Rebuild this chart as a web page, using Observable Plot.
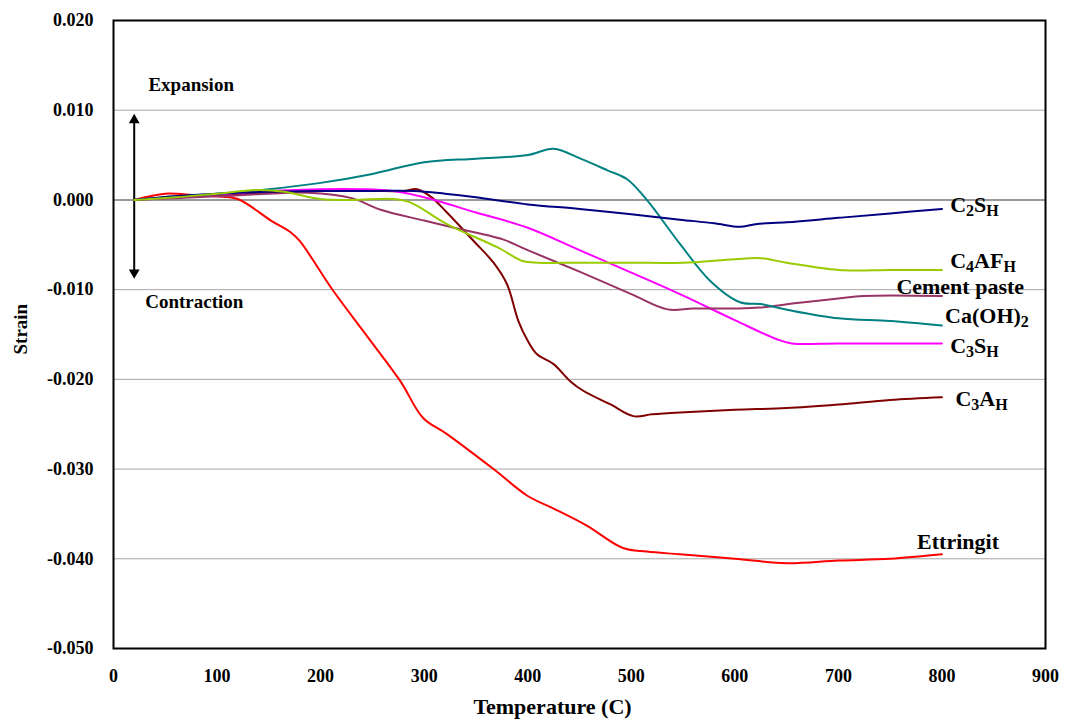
<!DOCTYPE html>
<html>
<head>
<meta charset="utf-8">
<script src="https://cdn.jsdelivr.net/npm/d3@7"></script>
<script src="https://cdn.jsdelivr.net/npm/@observablehq/plot@0.6"></script>
<style>
  html, body { margin: 0; padding: 0; background: white; }
</style>
</head>
<body>
<div id="chart"></div>
<script>
// ---- Axis ticks ----
const xTicks = [0, 100, 200, 300, 400, 500, 600, 700, 800, 900];
const yTicks = [-0.05, -0.04, -0.03, -0.02, -0.01, 0, 0.01, 0.02];
const gridLines = [-0.04, -0.03, -0.02, -0.01, 0.01];
const zeroLine = [0];

// ---- Series (temperature in C, strain) ----
const ettT = [20, 50, 80, 100, 120, 152, 171, 180, 212, 245, 277, 299, 322, 367, 400, 425, 457, 492, 515, 547, 600, 650, 700, 750, 800];
const ettV = [0, 0.0007, 0.0005, 0.0004, 0.0001, -0.0023, -0.0036, -0.0046, -0.0101, -0.0152, -0.0202, -0.0243, -0.0261, -0.0300, -0.0330, -0.0344, -0.0363, -0.0388, -0.0392, -0.0395, -0.0400, -0.0405, -0.0402, -0.0400, -0.0395];

const c3aT = [20, 60, 100, 150, 200, 250, 280, 293, 306, 322, 348, 367, 380, 391, 400, 409, 425, 441, 454, 480, 502, 520, 547, 600, 650, 700, 750, 800];
const c3aV = [0, 0.0003, 0.0005, 0.0008, 0.0010, 0.0010, 0.0010, 0.0012, 0.0004, -0.0014, -0.0046, -0.0070, -0.0094, -0.0135, -0.0157, -0.0172, -0.0183, -0.0202, -0.0213, -0.0228, -0.0241, -0.0239, -0.0237, -0.0234, -0.0232, -0.0228, -0.0223, -0.0220];

const c3sT = [20, 60, 100, 150, 200, 240, 270, 300, 350, 400, 450, 500, 547, 600, 640, 655, 700, 800];
const c3sV = [0, 0.0003, 0.0006, 0.0010, 0.0012, 0.0012, 0.0010, 0.0003, -0.0014, -0.0031, -0.0056, -0.0081, -0.0105, -0.0134, -0.0155, -0.0160, -0.0160, -0.0160];

const cemT = [20, 60, 100, 150, 187, 230, 258, 300, 325, 376, 400, 450, 500, 535, 560, 600, 624, 660, 700, 724, 800];
const cemV = [0, 0.0002, 0.0004, 0.0007, 0.0008, 0.0002, -0.0011, -0.0023, -0.0030, -0.0044, -0.0056, -0.0080, -0.0105, -0.0122, -0.0121, -0.0121, -0.0120, -0.0115, -0.0110, -0.0107, -0.0107];

const cohT = [20, 60, 100, 150, 200, 250, 300, 350, 400, 425, 451, 477, 496, 515, 547, 576, 605, 625, 653, 700, 750, 800];
const cohV = [0, 0.0004, 0.0007, 0.0012, 0.0019, 0.0029, 0.0042, 0.0046, 0.0050, 0.0057, 0.0046, 0.0033, 0.0023, 0, -0.0049, -0.0090, -0.0114, -0.0116, -0.0123, -0.0132, -0.0135, -0.0140];

const c2sT = [20, 60, 100, 150, 200, 250, 290, 320, 350, 400, 450, 500, 547, 580, 605, 620, 650, 700, 750, 800];
const c2sV = [0, 0.0004, 0.0007, 0.0009, 0.0010, 0.0010, 0.0010, 0.0007, 0.0003, -0.0005, -0.0010, -0.0016, -0.0022, -0.0026, -0.0030, -0.0027, -0.0025, -0.0020, -0.0015, -0.0010];

const c4aT = [20, 60, 100, 140, 165, 200, 230, 270, 287, 322, 371, 395, 410, 450, 500, 550, 600, 625, 650, 700, 750, 800];
const c4aV = [0, 0.0003, 0.0007, 0.0011, 0.0009, 0.0001, 0, 0.0001, -0.0003, -0.0027, -0.0053, -0.0068, -0.0070, -0.0070, -0.0070, -0.0070, -0.0066, -0.0065, -0.0070, -0.0078, -0.0078, -0.0078];

const seriesNames = ["Ettringit", "C3AH", "C3SH", "Cement paste", "Ca(OH)2", "C2SH", "C4AFH"];
const seriesColors = ["#FF0000", "#800000", "#FF00FF", "#993366", "#008080", "#000080", "#99CC00"];
const seriesT = [ettT, c3aT, c3sT, cemT, cohT, c2sT, c4aT];
const seriesV = [ettV, c3aV, c3sV, cemV, cohV, c2sV, c4aV];

// ---- End labels (underscore marks a subscript character) ----
const labelText = ["C_2S_H", "C_4AF_H", "Cement paste", "Ca(OH)_2", "C_3S_H", "C_3A_H", "Ettringit"];
const labelT = [808, 808, 756, 803, 808, 813, 776];
const labelV = [-0.0006, -0.0068, -0.0097, -0.0129, -0.0163, -0.0222, -0.0381];

// ---- Expansion / contraction annotation ----
const arrowT = [20];
const arrowTop = [0.0089];
const arrowBottom = [-0.0081];
const noteText = ["Expansion", "Contraction"];
const noteT = [75, 78];
const noteV = [0.0128, -0.0114];

const lineMarks = seriesNames.map((name, i) =>
  Plot.line(seriesT[i].map((t, j) => ({t, v: seriesV[i][j]})), {
    x: "t", y: "v", stroke: seriesColors[i], strokeWidth: 2, curve: "catmull-rom"
  })
);

const chart = Plot.plot({
  width: 1065,
  height: 724,
  marginLeft: 113,
  marginRight: 20,
  marginTop: 20,
  marginBottom: 76,
  style: {fontFamily: "'Liberation Serif', 'Times New Roman', serif", fontSize: "18px", fontWeight: "bold", background: "white", color: "black", overflow: "visible"},
  x: {domain: [0, 900]},
  y: {domain: [-0.05, 0.02]},
  marks: [
    Plot.ruleY(gridLines, {stroke: "#a6a6a6", strokeWidth: 1}),
    Plot.ruleY(zeroLine, {stroke: "#7a7a7a", strokeWidth: 1.5}),
    Plot.axisX({ticks: xTicks, tickSize: 0, tickPadding: 21, tickFormat: d => String(d), label: null, fontSize: 18}),
    Plot.axisY({ticks: yTicks, tickSize: 0, tickPadding: 20, tickFormat: d => d.toFixed(3), label: null, fontSize: 18}),
    Plot.text(["Temperature (C)"], {frameAnchor: "bottom", dy: 65, dx: -27, text: d => d, fontSize: 22}),
    Plot.text(["Strain"], {frameAnchor: "left", dx: -93, dy: 20, rotate: -90, text: d => d, fontSize: 19}),
    Plot.ruleX(arrowT, {x: d => d, y1: arrowBottom[0], y2: arrowTop[0], stroke: "black", strokeWidth: 2}),
    Plot.dot(arrowT, {x: d => d, y: arrowTop[0], symbol: "triangle", r: 4, fill: "black"}),
    Plot.dot(arrowT, {x: d => d, y: arrowBottom[0], symbol: "triangle", r: 4, fill: "black", rotate: 180}),
    Plot.text(noteText.map((s, i) => ({s, t: noteT[i], v: noteV[i]})), {x: "t", y: "v", text: "s", fontSize: 19}),
    ...lineMarks,
    Plot.text(labelText.map((s, i) => ({s, t: labelT[i], v: labelV[i]})), {x: "t", y: "v", text: "s", textAnchor: "start", fontSize: 22}),
    Plot.frame({stroke: "black", strokeWidth: 2})
  ]
});

// Turn "_x" markers into real subscripts
chart.querySelectorAll("text").forEach(el => {
  const s = el.textContent;
  if (!s.includes("_") || el.children.length > 0) return;
  el.textContent = "";
  const parts = s.split(/_(.)/);
  let shifted = false;
  parts.forEach((p, k) => {
    if (!p) return;
    const ts = document.createElementNS("http://www.w3.org/2000/svg", "tspan");
    ts.textContent = p;
    if (k % 2 === 1) {
      ts.setAttribute("font-size", "16");
      if (!shifted) { ts.setAttribute("dy", "4"); shifted = true; }
    } else if (shifted) {
      ts.setAttribute("dy", "-4"); shifted = false;
    }
    el.appendChild(ts);
  });
});

document.getElementById("chart").appendChild(chart);
</script>
</body>
</html>
